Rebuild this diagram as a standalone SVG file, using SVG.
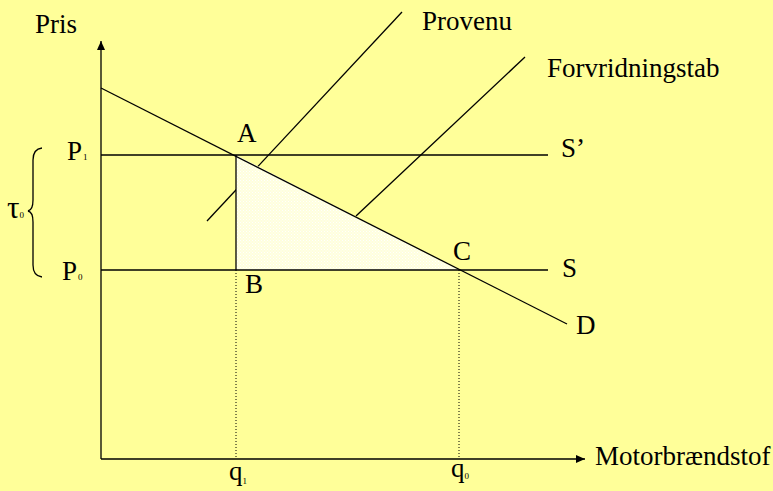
<svg xmlns="http://www.w3.org/2000/svg" width="773" height="491" viewBox="0 0 773 491">
<defs>
<style>
text{font-family:"Liberation Serif","Times New Roman",serif;fill:#000}
.lbl{font-size:27px}
.sub{font-size:9px}
.ln{stroke:#000;stroke-width:1.3;fill:none}
.dot{stroke:#000;stroke-width:1;stroke-dasharray:1 2;fill:none}
</style>
<pattern id="fillp" width="3" height="3" patternUnits="userSpaceOnUse">
<rect width="3" height="3" fill="#FFFFDC"/>
<rect x="0" y="0" width="1" height="1" fill="#FFFFFF"/>
<rect x="1.5" y="1.5" width="1" height="1" fill="#FFFFFF"/>
</pattern>
<marker id="arr" markerWidth="10" markerHeight="10" refX="9" refY="5" orient="auto" markerUnits="userSpaceOnUse">
<path d="M0,1 L9,5 L0,9 Z" fill="#000"/>
</marker>
</defs>
<rect width="773" height="491" fill="#FFFF99"/>
<g id="connectors">
<line class="ln" x1="207" y1="221" x2="402" y2="12"/>
<line class="ln" x1="356" y1="216" x2="525" y2="57"/>
<polygon points="236,155 236,270 459,270" fill="url(#fillp)"/>
<line class="ln" x1="101" y1="459" x2="101" y2="41" stroke-width="1.5" marker-end="url(#arr)"/>
<line class="ln" x1="101" y1="459" x2="585" y2="459" stroke-width="1.5" marker-end="url(#arr)"/>
<line class="ln" x1="101" y1="88" x2="567" y2="324"/>
<line class="ln" x1="101" y1="155" x2="548" y2="155"/>
<line class="ln" x1="101" y1="270" x2="548" y2="270"/>
<line class="ln" x1="236" y1="155" x2="236" y2="270"/>
<line class="dot" x1="236" y1="270" x2="236" y2="459"/>
<line class="dot" x1="459" y1="270" x2="459" y2="459"/>
<path class="ln" d="M42,148 Q33,149 33,160 L33,200 Q33,210 28,211 Q33,212 33,222 L33,265 Q33,276 42,277" stroke-width="1"/>
</g>
<g id="axis-labels">
<text class="lbl" x="35" y="33">Pris</text>
<text class="lbl" x="595" y="465">Motorbrændstof</text>
</g>
<g id="curve-labels">
<text class="lbl" x="422" y="30">Provenu</text>
<text class="lbl" x="547" y="77">Forvridningstab</text>
<text class="lbl" x="561" y="157">S’</text>
<text class="lbl" x="562" y="277">S</text>
<text class="lbl" x="576" y="334">D</text>
</g>
<g id="points">
<text class="lbl" x="237" y="142">A</text>
<text class="lbl" x="245" y="293">B</text>
<text class="lbl" x="453" y="260">C</text>
</g>
<g id="price-labels">
<text class="lbl" x="67" y="160">P<tspan class="sub" dx="1">1</tspan></text>
<text class="lbl" x="62" y="280">P<tspan class="sub" dx="1">0</tspan></text>
<text class="lbl" x="7" y="218" style="font-size:31px">τ<tspan class="sub" dx="0">0</tspan></text>
</g>
<g id="quantity-labels">
<text class="lbl" x="229" y="480">q<tspan class="sub" dx="0" dy="4">1</tspan></text>
<text class="lbl" x="451" y="477">q<tspan class="sub" dx="0" dy="2">0</tspan></text>
</g>
</svg>
